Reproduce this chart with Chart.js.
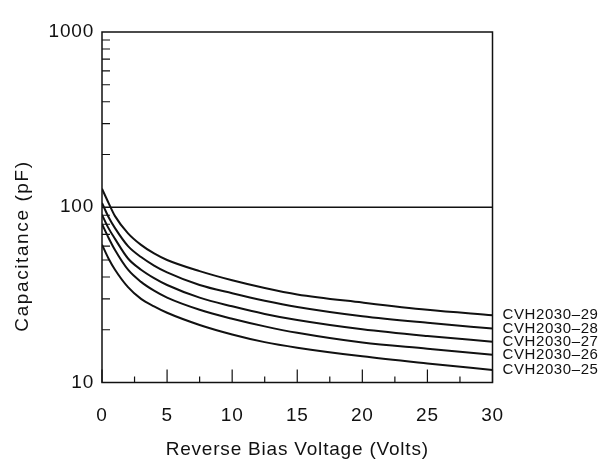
<!DOCTYPE html>
<html>
<head>
<meta charset="utf-8">
<script src="https://cdn.jsdelivr.net/npm/chart.js@4.4.0/dist/chart.umd.min.js"></script>
<style>
  body { margin: 0; background: #fff; }
  #wrap { width: 610px; height: 464px; }
</style>
</head>
<body>
<div id="wrap"><canvas id="cvChart" width="610" height="464"></canvas></div>
<script>
// --- Data ---
const voltages = [0, 0.5, 1, 2, 3, 4, 5, 7.5, 10, 12.5, 15, 20, 25, 30];
const cvh29 = [127.5, 106, 89, 71, 61, 54.5, 50, 43.2, 38.3, 34.6, 31.8, 28.6, 26.0, 24.2];
const cvh28 = [105.7, 88, 76, 60, 52, 46.5, 42.5, 36, 32.3, 29.3, 27, 23.9, 21.9, 20.3];
const cvh27 = [90.6, 76, 66, 51, 44, 39.4, 36, 30.5, 27.2, 24.6, 22.7, 20.1, 18.4, 17.1];
const cvh26 = [80.2, 67, 57, 44, 37.5, 33.4, 30.5, 26, 23.1, 20.9, 19.2, 16.9, 15.6, 14.4];
const cvh25 = [61.1, 51, 44, 35, 30, 27.2, 25, 21.3, 18.8, 17.0, 15.8, 14.1, 12.85, 11.8];
const seriesNames = ['CVH2030–29', 'CVH2030–28', 'CVH2030–27', 'CVH2030–26', 'CVH2030–25'];

// --- Tick values ---
const xTickLabels = [0, 5, 10, 15, 20, 25, 30];
const xMinorTicks = [2.5, 7.5, 12.5, 17.5, 22.5, 27.5];
const yTickLabels = [10, 100, 1000];
const yMinorTicks = [20, 30, 40, 50, 60, 70, 80, 90, 200, 300, 400, 500, 600, 700, 800, 900];

const INK = '#111';
const FONT = 'Liberation Sans, Arial, Helvetica, sans-serif';

const toPoints = ys => voltages.map((v, i) => ({ x: v, y: ys[i] }));

// --- Frame, inward ticks, curve labels ---
const framePlugin = {
    id: 'frame',
    beforeDraw(chart) {
        chart.ctx.letterSpacing = '0.8px';
    },
    afterDatasetsDraw(chart) {
        const { ctx, chartArea: a, scales: { x, y } } = chart;
        ctx.save();
        ctx.strokeStyle = INK;
        ctx.lineWidth = 1.5;
        ctx.strokeRect(a.left, a.top, a.right - a.left, a.bottom - a.top);

        // grid line at 100 only
        const y100 = y.getPixelForValue(100);
        ctx.beginPath();
        ctx.moveTo(a.left, y100);
        ctx.lineTo(a.right, y100);
        ctx.stroke();

        ctx.lineWidth = 1.2;
        ctx.beginPath();
        xTickLabels.forEach(v => {
            const px = x.getPixelForValue(v);
            ctx.moveTo(px, a.bottom);
            ctx.lineTo(px, a.bottom - 13);
        });
        xMinorTicks.forEach(v => {
            const px = x.getPixelForValue(v);
            ctx.moveTo(px, a.bottom);
            ctx.lineTo(px, a.bottom - 6);
        });
        yMinorTicks.forEach(v => {
            const py = y.getPixelForValue(v);
            ctx.moveTo(a.left, py);
            ctx.lineTo(a.left + 8, py);
        });
        ctx.stroke();

        // curve names at the right end of each line
        ctx.fillStyle = INK;
        ctx.font = '15px ' + FONT;
        ctx.letterSpacing = '0.6px';
        ctx.textAlign = 'left';
        ctx.textBaseline = 'middle';
        chart.data.datasets.forEach(ds => {
            const last = ds.data[ds.data.length - 1];
            ctx.fillText(ds.label, a.right + 10, y.getPixelForValue(last.y));
        });

        // y axis title
        ctx.font = '19px ' + FONT;
        ctx.letterSpacing = '1.6px';
        ctx.textAlign = 'center';
        ctx.translate(23, 246);
        ctx.rotate(-Math.PI / 2);
        ctx.fillText('Capacitance (pF)', 0, 0);
        ctx.restore();
    }
};

const allSeries = [cvh29, cvh28, cvh27, cvh26, cvh25];

new Chart(document.getElementById('cvChart'), {
    type: 'line',
    data: {
        datasets: allSeries.map((ys, i) => ({
            label: seriesNames[i],
            data: toPoints(ys),
            borderColor: INK,
            borderWidth: 2,
            pointRadius: 0,
            fill: false,
            cubicInterpolationMode: 'monotone'
        }))
    },
    options: {
        responsive: false,
        animation: false,
        layout: { padding: { top: 32, right: 117.5, left: 0, bottom: 0 } },
        plugins: { legend: { display: false }, tooltip: { enabled: false } },
        scales: {
            x: {
                type: 'linear',
                min: 0,
                max: 30,
                afterBuildTicks: s => { s.ticks = xTickLabels.map(v => ({ value: v })); },
                afterFit: s => { s.height = 81.5; },
                grid: { display: false, drawTicks: false },
                border: { display: false },
                ticks: { color: INK, font: { family: FONT, size: 19 }, padding: 22, maxRotation: 0, autoSkip: false },
                title: {
                    display: true,
                    text: 'Reverse Bias Voltage (Volts)',
                    color: INK,
                    font: { family: FONT, size: 19 },
                    padding: { top: 0, bottom: 3 }
                }
            },
            y: {
                type: 'logarithmic',
                min: 10,
                max: 1000,
                afterBuildTicks: s => { s.ticks = yTickLabels.map(v => ({ value: v })); },
                afterFit: s => { s.width = 102; },
                grid: { display: false, drawTicks: false },
                border: { display: false },
                ticks: { color: INK, font: { family: FONT, size: 19 }, padding: 8, autoSkip: false, callback: v => String(v) }
            }
        }
    },
    plugins: [framePlugin]
});
</script>
</body>
</html>
